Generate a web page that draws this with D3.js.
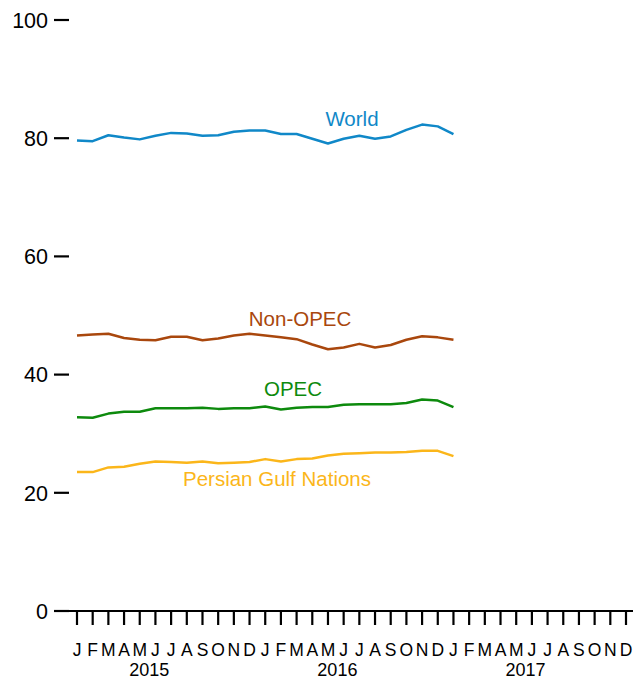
<!DOCTYPE html>
<html><head><meta charset="utf-8">
<script src="https://cdn.jsdelivr.net/npm/d3@7"></script>
<style>body{margin:0;background:#fff}svg{display:block;font-family:"Liberation Sans",Arial,sans-serif}</style>
</head><body><svg id="c" width="644" height="679"></svg>
<script>
const months = ["J","F","M","A","M","J","J","A","S","O","N","D","J","F","M","A","M","J","J","A","S","O","N","D","J","F","M","A","M","J","J","A","S","O","N","D"];
const years = ["2015","2016","2017"];
const yTicks = [0,20,40,60,80,100];
const world = [79.6,79.5,80.5,80.1,79.8,80.4,80.9,80.8,80.4,80.5,81.1,81.3,81.3,80.7,80.7,79.9,79.1,79.9,80.4,79.9,80.3,81.4,82.3,82.0,80.7];
const nonOpec = [46.6,46.8,46.9,46.2,45.9,45.8,46.4,46.4,45.8,46.1,46.6,46.9,46.6,46.3,46.0,45.1,44.3,44.6,45.2,44.6,45.0,45.9,46.5,46.3,45.9];
const opec = [32.8,32.7,33.4,33.7,33.7,34.3,34.3,34.3,34.4,34.2,34.3,34.3,34.6,34.1,34.4,34.5,34.5,34.9,35.0,35.0,35.0,35.2,35.8,35.6,34.5];
const gulf = [23.5,23.5,24.3,24.4,24.9,25.3,25.2,25.1,25.3,25.0,25.1,25.2,25.7,25.3,25.7,25.8,26.3,26.6,26.7,26.8,26.8,26.9,27.1,27.1,26.2];
const seriesNames = ["World","Non-OPEC","OPEC","Persian Gulf Nations"];
const seriesColors = ["#1088c8","#a9470d","#0d8a0d","#fbb61a"];
const seriesData = [world, nonOpec, opec, gulf];
const labelAt = [[17.53,82.06],[14.22,48.2],[13.77,36.4],[12.75,21.15]];

const svg = d3.select("#c");
const x = d3.scaleLinear().domain([0,35]).range([77,626]);
const y = d3.scaleLinear().domain([0,100]).range([611,20]);

// y axis ticks
const yg = svg.append("g");
yg.selectAll("line").data(yTicks).join("line")
  .attr("x1",54).attr("x2",69).attr("y1",d=>y(d)).attr("y2",d=>y(d))
  .attr("stroke","#000").attr("stroke-width",2.2);
yg.selectAll("text").data(yTicks).join("text")
  .attr("x",48).attr("y",d=>y(d)).attr("dy","0.36em")
  .attr("text-anchor","end").attr("font-size",21.5).attr("fill","#000").text(d=>d);

// x axis
svg.append("line").attr("x1",54).attr("x2",633).attr("y1",y(0)).attr("y2",y(0))
  .attr("stroke","#000").attr("stroke-width",2.2);
const xg = svg.append("g");
xg.selectAll("line").data(months).join("line")
  .attr("x1",(d,i)=>x(i)).attr("x2",(d,i)=>x(i)).attr("y1",y(0)).attr("y2",y(0)+14)
  .attr("stroke","#000").attr("stroke-width",2.2);
xg.selectAll("text").data(months).join("text")
  .attr("x",(d,i)=>x(i)).attr("y",656).attr("text-anchor","middle")
  .attr("font-size",17.5).attr("fill","#000").text(d=>d);
svg.append("g").selectAll("text").data(years).join("text")
  .attr("x",(d,i)=>x(i*12+4.6)).attr("y",676).attr("text-anchor","middle")
  .attr("font-size",18).attr("fill","#000").text(d=>d);

// lines
const line = d3.line().x((d,i)=>x(i)).y(d=>y(d));
seriesData.forEach((s,k)=>{
  svg.append("path").datum(s).attr("d",line).attr("fill","none")
    .attr("stroke",seriesColors[k]).attr("stroke-width",2.5).attr("stroke-linejoin","round");
  svg.append("text").attr("x",x(labelAt[k][0])).attr("y",y(labelAt[k][1]))
    .attr("text-anchor","middle").attr("font-size",20.5).attr("fill",seriesColors[k]).text(seriesNames[k]);
});
</script></body></html>
